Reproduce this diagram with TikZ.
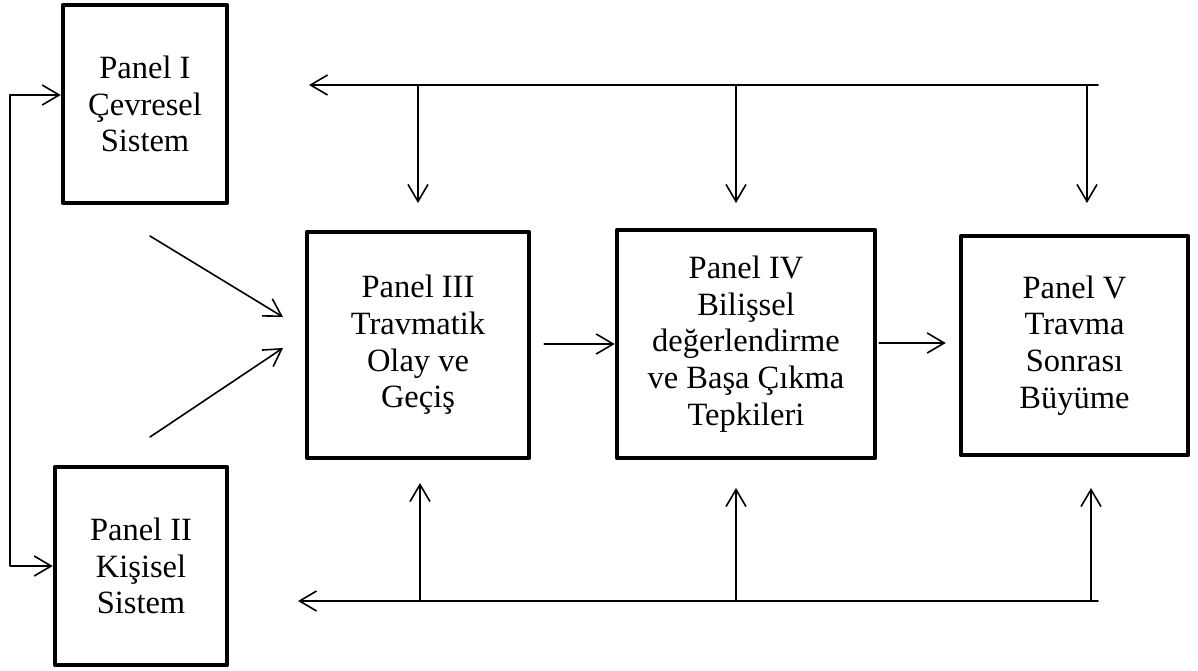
\documentclass[tikz,border=0pt]{standalone}
\usepackage{fontspec}
\setmainfont{Liberation Serif}
\usetikzlibrary{arrows.meta}

\begin{document}
\begin{tikzpicture}[x=1pt, y=-1pt, line cap = round, line join = round,
	>={Straight Barb[length=17pt,width=20pt]},
	panel/.style={draw, line width=4.5pt, align=center, inner sep=0pt,
		font=\fontsize{32.5}{36.7}\selectfont},
	link/.style={line width=1.6pt}]
		\useasboundingbox (0,0) rectangle (1198,670);

		% Panel I and Panel II
		\node [panel, minimum width=164pt, minimum height=198pt] (p1) at (145,104) {Panel I\\Çevresel\\Sistem};
		\node [panel, minimum width=172pt, minimum height=198pt] (p2) at (141,566) {Panel II\\Kişisel\\Sistem};
		% Panel III, IV, V
		\node [panel, minimum width=222pt, minimum height=226pt] (p3) at (418,345) {Panel III\\Travmatik\\Olay ve\\Geçiş};
		\node [panel, minimum width=258pt, minimum height=228pt] (p4) at (746,344) {Panel IV\\Bilişsel\\değerlendirme\\ve Başa Çıkma\\Tepkileri};
		\node [panel, minimum width=227pt, minimum height=219pt] (p5) at (1074.5,345.5) {Panel V\\Travma\\Sonrası\\Büyüme};

		% link between Panel I and Panel II
		\coordinate (lft) at (10,330);
		\draw [link,<->] ([yshift=9pt]p1.west) -| (lft) |- (p2.west);

		% into Panel III
		\coordinate (d1) at (150,236);
		\coordinate (d1e) at (283,317);
		\coordinate (d2) at (150,437);
		\coordinate (d2e) at (283,348);
		\draw [link,->] (d1) -- (d1e);
		\draw [link,->] (d2) -- (d2e);

		% along the panels
		\draw [link,->] ([xshift=13pt,yshift=1pt]p3.east) -- ([yshift=1pt]p3.east -| p4.west);
		\draw [link,->,shorten >=13pt] ([xshift=2pt,yshift=1pt]p4.east) -- ([yshift=1pt]p4.east -| p5.west);

		% feedback on top
		\coordinate (tr) at (1098,85);
		\coordinate (tl) at (309,85);
		\draw [link,->] (tr) -- (tl);
		\foreach \x in {418,736,1087}
			\draw [link,->] (\x,85) -- (\x,203);

		% feedback below
		\coordinate (br) at (1098,601);
		\coordinate (bl) at (298,601);
		\draw [link,->] (br) -- (bl);
		\draw [link,->] (420,601) -- (420,483);
		\draw [link,->] (736,601) -- (736,488);
		\draw [link,->] (1091,601) -- (1091,488);
	\end{tikzpicture}
\end{document}
